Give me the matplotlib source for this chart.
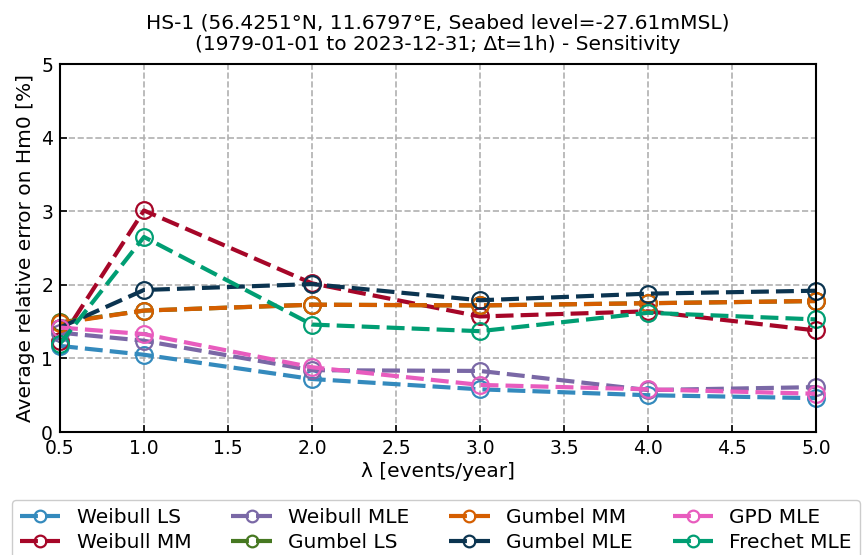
import matplotlib.pyplot as plt
import numpy as np

# return-rate (events/year) and average relative error [%]
lam = [0.5, 1.0, 2.0, 3.0, 4.0, 5.0]

weibull_ls = [1.17, 1.05, 0.72, 0.58, 0.50, 0.46]
weibull_mm = [1.24, 3.01, 2.02, 1.57, 1.64, 1.38]
weibull_mle = [1.35, 1.24, 0.84, 0.83, 0.57, 0.61]
gumbel_ls = [1.49, 1.65, 1.73, 1.72, 1.75, 1.78]
gumbel_mm = [1.48, 1.65, 1.73, 1.72, 1.75, 1.78]
gumbel_mle = [1.42, 1.93, 2.01, 1.79, 1.88, 1.92]
gpd_mle = [1.42, 1.33, 0.88, 0.64, 0.58, 0.52]
frechet_mle = [1.20, 2.65, 1.46, 1.37, 1.62, 1.53]

labels = ['Weibull LS', 'Weibull MM', 'Weibull MLE', 'Gumbel LS',
          'Gumbel MM', 'Gumbel MLE', 'GPD MLE', 'Frechet MLE']
series = [weibull_ls, weibull_mm, weibull_mle, gumbel_ls,
          gumbel_mm, gumbel_mle, gpd_mle, frechet_mle]
colors = ['#348ABD', '#A60628', '#7A68A6', '#467821',
          '#D55E00', '#0B3450', '#E85CBE', '#009E73']

fig = plt.figure(figsize=(8.63, 5.55), dpi=100)
ax = fig.add_axes([0.0695, 0.2216, 0.876, 0.663])

for vals, lab, col in zip(series, labels, colors):
    ax.plot(lam, vals, linestyle='--', linewidth=3, color=col, label=lab,
            marker='o', markersize=12, markerfacecolor='none',
            markeredgewidth=1.6, dashes=(4.3, 1.7), clip_on=False)

ax.set_xlim(0.5, 5.0)
ax.set_ylim(0, 5)
ax.set_xticks(np.arange(0.5, 5.01, 0.5))
ax.set_yticks(range(6))
ax.tick_params(direction='in', labelsize=13.5, length=5, width=1.2, pad=5)
for s in ax.spines.values():
    s.set_linewidth(1.5)
ax.grid(True, linestyle='--', color='#b0b0b0', linewidth=1.2)

ax.set_xlabel('λ [events/year]', fontsize=14.5, labelpad=3)
ax.set_ylabel('Average relative error on Hm0 [%]', fontsize=14.5)
ax.set_title('HS-1 (56.4251°N, 11.6797°E, Seabed level=-27.61mMSL)\n'
             '(1979-01-01 to 2023-12-31; Δt=1h) - Sensitivity',
             fontsize=14.5, pad=10, linespacing=1.15)

fig.legend(loc='upper left', bbox_to_anchor=(0.014, 0.1), ncol=4,
           fontsize=14.5, handlelength=2, labelspacing=0.3, markerscale=0.7,
           framealpha=1, borderaxespad=0)

plt.savefig('out.png', dpi=100)
